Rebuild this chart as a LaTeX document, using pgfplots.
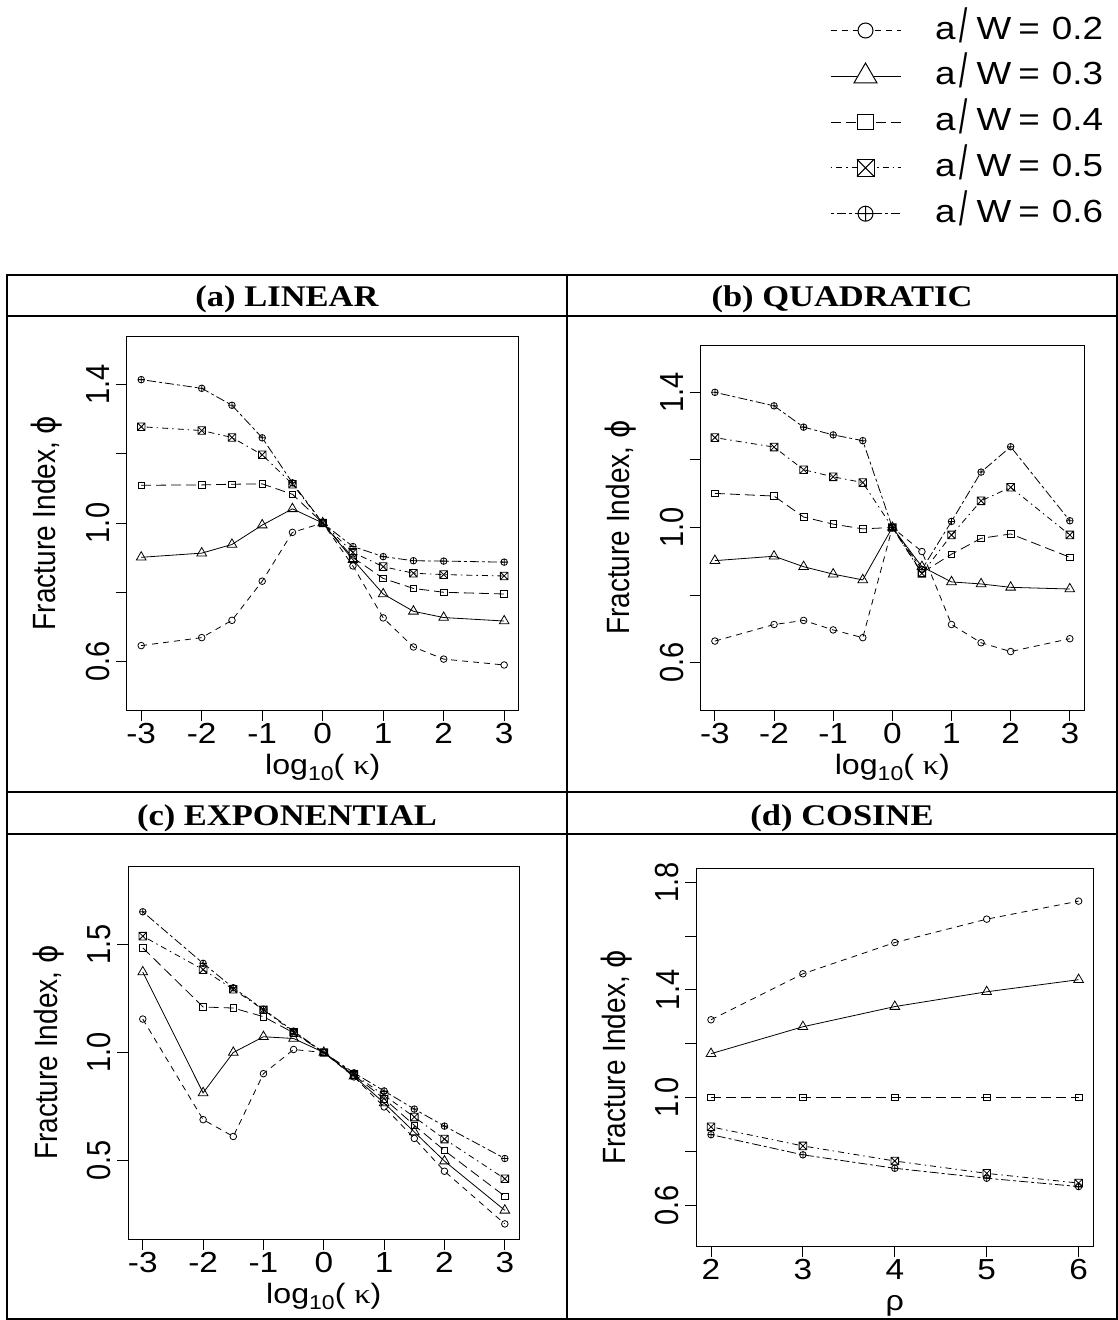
\documentclass[border=0pt]{standalone}
\usepackage{fontspec}
\setmainfont{Liberation Sans}[FakeStretch=1.15]
\newfontfamily\rfam{Liberation Sans}
\newfontfamily\titlefont{Liberation Serif}[FakeStretch=1.15]
\newfontfamily\serifgr{Liberation Serif}[FakeStretch=1.15]
\newfontfamily\dejavu{DejaVu Sans}
\usepackage{graphicx}
\usepackage{pgfplots}
\usepackage{pgfplotstable}
\pgfplotsset{compat=1.18}

\pgfdeclareplotmark{sqx}{%
  \pgfpathmoveto{\pgfqpoint{-\pgfplotmarksize}{-\pgfplotmarksize}}%
  \pgfpathlineto{\pgfqpoint{\pgfplotmarksize}{-\pgfplotmarksize}}%
  \pgfpathlineto{\pgfqpoint{\pgfplotmarksize}{\pgfplotmarksize}}%
  \pgfpathlineto{\pgfqpoint{-\pgfplotmarksize}{\pgfplotmarksize}}%
  \pgfpathclose
  \pgfpathmoveto{\pgfqpoint{-\pgfplotmarksize}{-\pgfplotmarksize}}%
  \pgfpathlineto{\pgfqpoint{\pgfplotmarksize}{\pgfplotmarksize}}%
  \pgfpathmoveto{\pgfqpoint{-\pgfplotmarksize}{\pgfplotmarksize}}%
  \pgfpathlineto{\pgfqpoint{\pgfplotmarksize}{-\pgfplotmarksize}}%
  \pgfusepathqstroke}
\pgfdeclareplotmark{sqxw}{%
  \pgfsetfillcolor{white}%
  \pgfpathrectangle{\pgfqpoint{-\pgfplotmarksize}{-\pgfplotmarksize}}{\pgfqpoint{2\pgfplotmarksize}{2\pgfplotmarksize}}%
  \pgfusepathqfillstroke
  \pgfpathmoveto{\pgfqpoint{-\pgfplotmarksize}{-\pgfplotmarksize}}%
  \pgfpathlineto{\pgfqpoint{\pgfplotmarksize}{\pgfplotmarksize}}%
  \pgfpathmoveto{\pgfqpoint{-\pgfplotmarksize}{\pgfplotmarksize}}%
  \pgfpathlineto{\pgfqpoint{\pgfplotmarksize}{-\pgfplotmarksize}}%
  \pgfusepathqstroke}

\pgfplotstableread{
x     a2    a3    a4    a5    a6
-3    0.646 0.901 1.109 1.278 1.414
-2    0.669 0.913 1.110 1.267 1.389
-1.5  0.719 0.938 1.112 1.247 1.340
-1    0.832 0.994 1.113 1.197 1.246
-0.5  0.973 1.041 1.083 1.112 1.116
0     1.000 1.000 1.000 1.000 1.000
0.5   0.876 0.894 0.900 0.915 0.932
1     0.726 0.795 0.840 0.874 0.903
1.5   0.642 0.745 0.811 0.855 0.891
2     0.607 0.727 0.800 0.851 0.890
3     0.590 0.717 0.795 0.847 0.887
}\tA
\pgfplotstableread{
x     a2    a3    a4    a5    a6
-3    0.664 0.902 1.101 1.266 1.400
-2    0.713 0.915 1.093 1.238 1.360
-1.5  0.725 0.884 1.031 1.171 1.297
-1    0.697 0.862 1.010 1.150 1.274
-0.5  0.674 0.845 0.996 1.133 1.257
0     1.000 1.000 1.000 1.000 1.000
0.5   0.929 0.884 0.866 0.864 0.876
1     0.713 0.839 0.921 0.978 1.018
1.5   0.659 0.833 0.968 1.079 1.164
2     0.633 0.823 0.981 1.119 1.239
3     0.671 0.818 0.912 0.978 1.020
}\tB
\pgfplotstableread{
x     a2    a3    a4    a5    a6
-3    1.155 1.373 1.485 1.539 1.652
-2    0.689 0.813 1.211 1.384 1.413
-1.5  0.611 1.000 1.206 1.293 1.300
-1    0.902 1.073 1.166 1.198 1.200
-0.5  1.014 1.065 1.091 1.094 1.099
0     1.000 1.000 1.000 1.000 1.000
0.5   0.887 0.890 0.895 0.899 0.906
1     0.748 0.766 0.786 0.802 0.822
1.5   0.602 0.632 0.663 0.701 0.738
2     0.450 0.497 0.546 0.599 0.659
3     0.206 0.269 0.334 0.415 0.509
}\tC
\pgfplotstableread{
x  a2    a3    a4    a5    a6
2  1.289 1.163 1.000 0.891 0.862
3  1.460 1.263 1.000 0.820 0.787
4  1.576 1.338 1.000 0.764 0.737
5  1.663 1.393 1.000 0.718 0.700
6  1.730 1.438 1.000 0.682 0.669
}\tD

\tikzset{
  s2/.style={black, line width=0.8pt, dash pattern=on 6pt off 5pt, mark=o, mark size=3.3pt, mark options={solid}},
  s3/.style={black, line width=0.8pt, solid, mark=triangle, mark size=5.6pt, mark options={solid}},
  s4/.style={black, line width=0.8pt, dash pattern=on 10pt off 5pt, mark=square, mark size=3.3pt, mark options={solid}},
  s5/.style={black, line width=0.8pt, dash pattern=on 1.5pt off 4pt on 6pt off 4pt, mark=sqx, mark size=3.8pt, mark options={solid}},
  s6/.style={black, line width=0.8pt, dash pattern=on 3pt off 3pt on 9pt off 3pt, mark=oplus, mark size=3.3pt, mark options={solid}},
}

\newcommand{\tfont}{\fontsize{29}{29}\selectfont}
\newcommand{\rfont}{\rfam\fontsize{29}{29}\selectfont}
\newcommand{\lfont}{\fontsize{28}{28}\selectfont}
\newcommand{\ys}[1]{\scalebox{1}[1.15]{#1}}
\newcommand{\kap}{log\raisebox{-6pt}{\fontsize{20}{20}\selectfont 10}( {\serifgr κ})}
\newcommand{\yl}{\ys{\rfam\fontsize{28}{28}\selectfont Fracture Index, {\dejavu ϕ}}}
\newcommand{\slsh}{\raisebox{-3pt}{\scalebox{0.8}[1.5]{/}}}
\newcommand{\aw}[1]{a\hspace{4pt}\slsh\hspace{9pt}W\hspace{7pt}=\hspace{12pt}#1}

\pgfplotsset{
  rax/.style={
    scale only axis, anchor=south west,
    axis line style={line width=1pt},
    every tick/.style={black, line width=1pt},
    tick align=outside, xtick pos=left, ytick pos=left,
    major tick length=11pt,
    xticklabel style={font=\tfont, anchor=north, inner sep=0pt},
    xticklabel shift=2pt,
    yticklabel style={font=\rfont, rotate=90, anchor=south, inner sep=0pt},
    yticklabel shift=6pt,
    xlabel style={font=\lfont, at={([yshift=-64pt]axis description cs:0.5,0)}, anchor=base},
    ylabel style={font=\lfont, at={([xshift=-80pt]axis description cs:0,0.5)}, anchor=center},
    ylabel={\yl},
  },
  kax/.style={rax, xmin=-3.24, xmax=3.24, xtick={-3,...,3},
    xticklabels={-3,-2,-1,0,1,2,3}, xlabel={\kap}},
}

\begin{document}
\begin{tikzpicture}
\useasboundingbox (0,0) rectangle (1118pt,-1320pt);

% (a)
\begin{axis}[kax, at={(126.7pt,-710pt)}, width=392pt, height=374pt,
  ymin=0.46, ymax=1.54, ytick={0.6,0.8,1.0,1.2,1.4}, yticklabels={\ys{0.6},,\ys{1.0},,\ys{1.4}}]
\addplot[s2] table[x=x,y=a2]{\tA};
\addplot[s3] table[x=x,y=a3]{\tA};
\addplot[s4] table[x=x,y=a4]{\tA};
\addplot[s5] table[x=x,y=a5]{\tA};
\addplot[s6] table[x=x,y=a6]{\tA};
\end{axis}

% (b)
\begin{axis}[kax, at={(700.7pt,-710pt)}, width=383.3pt, height=365pt,
  ymin=0.46, ymax=1.54, ytick={0.6,0.8,1.0,1.2,1.4}, yticklabels={\ys{0.6},,\ys{1.0},,\ys{1.4}}]
\addplot[s2] table[x=x,y=a2]{\tB};
\addplot[s3] table[x=x,y=a3]{\tB};
\addplot[s4] table[x=x,y=a4]{\tB};
\addplot[s5] table[x=x,y=a5]{\tB};
\addplot[s6] table[x=x,y=a6]{\tB};
\end{axis}

% (c)
\begin{axis}[kax, at={(128.3pt,-1239pt)}, width=391pt, height=373pt,
  ymin=0.136, ymax=1.864, ytick={0.5,1.0,1.5}, yticklabels={\ys{0.5},\ys{1.0},\ys{1.5}}]
\addplot[s2] table[x=x,y=a2]{\tC};
\addplot[s3] table[x=x,y=a3]{\tC};
\addplot[s4] table[x=x,y=a4]{\tC};
\addplot[s5] table[x=x,y=a5]{\tC};
\addplot[s6] table[x=x,y=a6]{\tC};
\end{axis}

% (d)
\begin{axis}[rax, at={(696.3pt,-1246pt)}, width=397pt, height=377.7pt,
  xmin=1.84, xmax=6.16, xtick={2,3,4,5,6}, xticklabels={2,3,4,5,6}, xlabel={ρ},
  ymin=0.448, ymax=1.852, ytick={0.6,0.8,1.0,1.2,1.4,1.6,1.8}, yticklabels={\ys{0.6},,\ys{1.0},,\ys{1.4},,\ys{1.8}}]
\addplot[s2] table[x=x,y=a2]{\tD};
\addplot[s3] table[x=x,y=a3]{\tD};
\addplot[s4] table[x=x,y=a4]{\tD};
\addplot[s5] table[x=x,y=a5]{\tD};
\addplot[s6] table[x=x,y=a6]{\tD};
\end{axis}

% legend
\begin{axis}[at={(830pt,-15pt)}, anchor=north west, scale only axis, width=280pt, height=220pt,
  hide axis, xmin=0, xmax=1, ymin=0, ymax=1,
  legend style={at={(0,1)}, anchor=north west, draw=none, fill=none, inner sep=0pt, outer sep=0pt,
    font=\fontsize{32}{32}\selectfont, row sep=14.8pt, column sep=34pt,
    nodes={inner sep=0pt, text height=24pt, text depth=7pt}},
  legend cell align=left,
  legend image code/.code={\draw[mark repeat=2, mark phase=2, #1] plot coordinates {(0pt,0pt) (35pt,0pt) (70pt,0pt)};}]
\addlegendimage{black, line width=1pt, dash pattern=on 6pt off 5pt, mark=*, mark size=7.5pt, mark options={solid, fill=white, draw=black}}
\addlegendentry{\aw{0.2}}
\addlegendimage{black, line width=1pt, solid, mark=triangle*, mark size=13.3pt, mark options={solid, fill=white, draw=black}}
\addlegendentry{\aw{0.3}}
\addlegendimage{black, line width=1pt, dash pattern=on 10pt off 5pt, mark=square*, mark size=7.7pt, mark options={solid, fill=white, draw=black}}
\addlegendentry{\aw{0.4}}
\addlegendimage{black, line width=1pt, dash pattern=on 1.5pt off 4pt on 6pt off 4pt, mark=sqxw, mark size=8.5pt, mark options={solid}}
\addlegendentry{\aw{0.5}}
\addlegendimage{black, line width=1pt, dash pattern=on 3pt off 3pt on 9pt off 3pt, mark=oplus*, mark size=7.5pt, mark options={solid, fill=white, draw=black}}
\addlegendentry{\aw{0.6}}
\end{axis}

% table frame and titles
\draw[line width=1.5pt] (7pt,-275pt) rectangle (1117pt,-1319pt);
\draw[line width=1.5pt] (7pt,-316pt) -- (1117pt,-316pt);
\draw[line width=1.5pt] (7pt,-792pt) -- (1117pt,-792pt);
\draw[line width=1.5pt] (7pt,-834pt) -- (1117pt,-834pt);
\draw[line width=1.5pt] (567pt,-275pt) -- (567pt,-1319pt);
\begin{scope}[every node/.style={font=\titlefont\bfseries\fontsize{30}{30}\selectfont, anchor=base, inner sep=0pt}]
\node at (287pt,-306pt) {(a) LINEAR};
\node at (842pt,-306pt) {(b) QUADRATIC};
\node at (287pt,-825pt) {(c) EXPONENTIAL};
\node at (842pt,-825pt) {(d) COSINE};
\end{scope}
\end{tikzpicture}
\end{document}
